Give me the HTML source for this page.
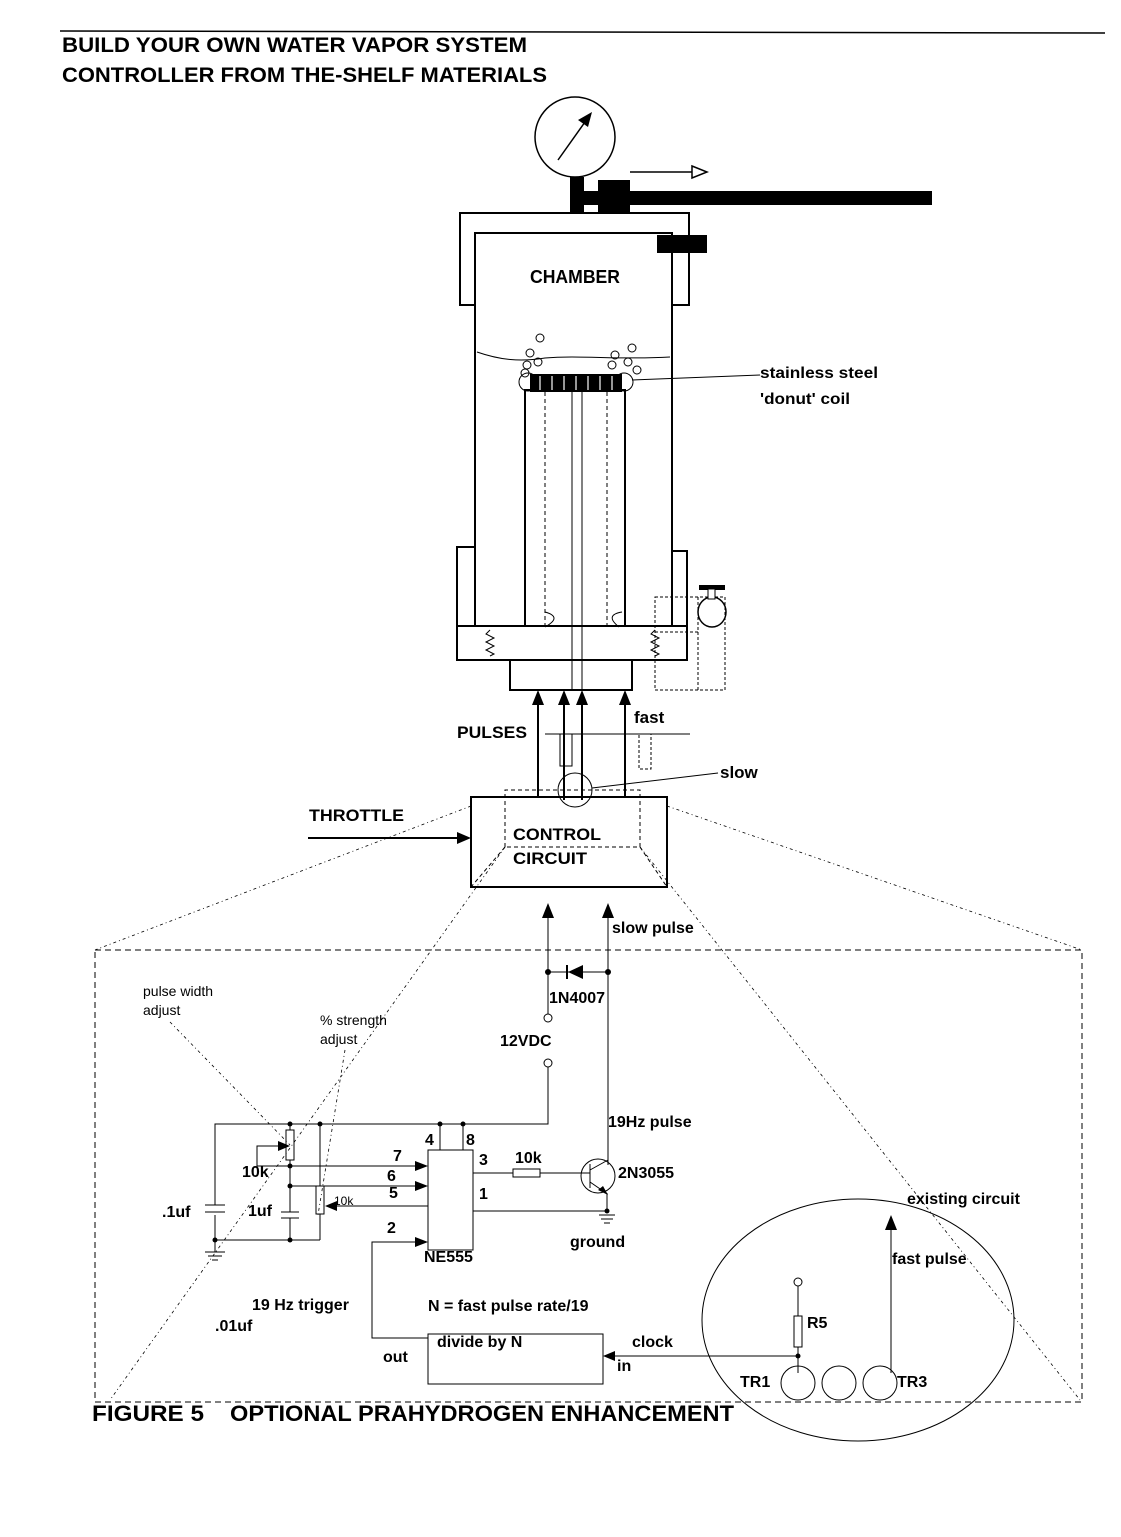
<!DOCTYPE html>
<html><head><meta charset="utf-8"><style>
html,body{margin:0;padding:0;background:#fff}
svg{display:block}
text{font-family:"Liberation Sans",sans-serif;fill:#000}
.b{font-weight:bold}
</style></head><body>
<svg width="1121" height="1537" viewBox="0 0 1121 1537" xmlns="http://www.w3.org/2000/svg">
<g stroke="#000" fill="none">
<line x1="60" y1="31" x2="1105" y2="33" stroke-width="1.5"/>
</g>
<text x="62" y="52" class="b" font-size="21" textLength="465" lengthAdjust="spacingAndGlyphs">BUILD YOUR OWN WATER VAPOR SYSTEM</text>
<text x="62" y="82" class="b" font-size="21" textLength="485" lengthAdjust="spacingAndGlyphs">CONTROLLER FROM THE-SHELF MATERIALS</text>

<!-- gauge -->
<g stroke="#000" fill="none" stroke-width="1.5">
<circle cx="575" cy="137" r="40"/>
<line x1="558" y1="160" x2="585" y2="122"/>
</g>
<polygon points="592,112 578,120 588,127" fill="#000"/>
<rect x="570" y="177" width="14" height="37" fill="#000"/>
<rect x="584" y="191" width="348" height="14" fill="#000"/>
<rect x="598" y="180" width="32" height="32" fill="#000"/>
<line x1="630" y1="172" x2="693" y2="172" stroke="#000" stroke-width="1.5"/>
<polygon points="692,166 707,172 692,178" fill="#fff" stroke="#000" stroke-width="1.5"/>

<g stroke="#000" fill="none" stroke-width="2">
<polyline points="475,305 460,305 460,213 689,213 689,305 672,305"/>
<rect x="475" y="233" width="197" height="393"/>
<polyline points="475,547 457,547 457,660 687,660 687,551 672,551"/>
<line x1="457" y1="626" x2="687" y2="626"/>
<rect x="510" y="660" width="122" height="30"/>
<rect x="525" y="390" width="100" height="236" stroke-width="2"/>
</g>
<rect x="657" y="235" width="50" height="18" fill="#000"/>
<text x="575" y="283" class="b" font-size="18" text-anchor="middle" textLength="90" lengthAdjust="spacingAndGlyphs">CHAMBER</text>
<path d="M477,352 C500,360 520,362 545,358 C580,355 620,360 670,357" stroke="#000" fill="none"/>
<!-- coil -->
<rect x="530" y="374" width="92" height="18" fill="#000"/>
<g stroke="#fff" stroke-width="1.2"><line x1="540" y1="376" x2="540" y2="390"/><line x1="552" y1="376" x2="552" y2="390"/><line x1="564" y1="376" x2="564" y2="390"/><line x1="576" y1="376" x2="576" y2="390"/><line x1="588" y1="376" x2="588" y2="390"/><line x1="600" y1="376" x2="600" y2="390"/><line x1="612" y1="376" x2="612" y2="390"/></g>
<g stroke="#000" fill="none" stroke-width="1">
<ellipse cx="528" cy="382" rx="9" ry="9"/><ellipse cx="624" cy="382" rx="9" ry="9"/>
<circle cx="540" cy="338" r="4"/><circle cx="530" cy="353" r="4"/><circle cx="538" cy="362" r="4"/><circle cx="527" cy="365" r="4"/>
<circle cx="632" cy="348" r="4"/><circle cx="615" cy="355" r="4"/><circle cx="628" cy="362" r="4"/><circle cx="612" cy="365" r="4"/><circle cx="637" cy="370" r="4"/><circle cx="525" cy="373" r="4"/>
<line x1="545" y1="392" x2="545" y2="625" stroke-dasharray="4,3"/>
<line x1="607" y1="392" x2="607" y2="625" stroke-dasharray="4,3"/>
<line x1="572" y1="392" x2="572" y2="690"/>
<line x1="582" y1="392" x2="582" y2="690"/>
<line x1="632" y1="380" x2="760" y2="375"/>
<path d="M490,630 l-4,4 l8,4 l-8,4 l8,4 l-8,4 l8,4 l-4,2"/>
<path d="M655,630 l-4,4 l8,4 l-8,4 l8,4 l-8,4 l8,4 l-4,2"/>
<path d="M545,612 q18,5 0,15"/><path d="M622,612 q-18,3 -3,15"/>
<rect x="655" y="597" width="70" height="93" stroke-dasharray="3,2"/>
<line x1="698" y1="597" x2="698" y2="690" stroke-dasharray="3,2"/>
<ellipse cx="712" cy="612" rx="14" ry="15" stroke-width="1.5"/>
<line x1="655" y1="632" x2="698" y2="632" stroke-dasharray="3,2"/>
</g>
<rect x="699" y="585" width="26" height="5" fill="#000"/>
<rect x="708" y="589" width="7" height="10" fill="#fff" stroke="#000"/>
<text x="760" y="378" class="b" font-size="16" textLength="118" lengthAdjust="spacingAndGlyphs">stainless steel</text>
<text x="760" y="404" class="b" font-size="16" textLength="90" lengthAdjust="spacingAndGlyphs">'donut' coil</text>

<!-- pulse arrows -->
<g stroke="#000" stroke-width="2">
<line x1="538" y1="797" x2="538" y2="700"/><line x1="564" y1="800" x2="564" y2="700"/><line x1="582" y1="800" x2="582" y2="700"/><line x1="625" y1="797" x2="625" y2="700"/>
</g>
<g fill="#000">
<polygon points="538,690 532,705 544,705"/><polygon points="564,690 558,705 570,705"/><polygon points="582,690 576,705 588,705"/><polygon points="625,690 619,705 631,705"/>
</g>
<g stroke="#000" fill="none" stroke-width="1">
<line x1="545" y1="734" x2="690" y2="734"/>
<rect x="560" y="734" width="12" height="32"/>
<rect x="639" y="734" width="12" height="35" stroke-dasharray="3,2"/>
<circle cx="575" cy="790" r="17"/>
<line x1="592" y1="788" x2="718" y2="773"/>
</g>
<text x="457" y="738" class="b" font-size="17" textLength="70" lengthAdjust="spacingAndGlyphs">PULSES</text>
<text x="634" y="723" class="b" font-size="17">fast</text>
<text x="720" y="778" class="b" font-size="17">slow</text>

<!-- control circuit -->
<rect x="471" y="797" width="196" height="90" fill="none" stroke="#000" stroke-width="2"/>
<g stroke="#000" fill="none" stroke-width="1" stroke-dasharray="4,3">
<polyline points="505,847 505,790 640,790 640,847 505,847"/>
<line x1="505" y1="847" x2="471" y2="887"/><line x1="640" y1="847" x2="667" y2="887"/>
</g>
<text x="513" y="840" class="b" font-size="17" textLength="88" lengthAdjust="spacingAndGlyphs">CONTROL</text>
<text x="513" y="864" class="b" font-size="17" textLength="74" lengthAdjust="spacingAndGlyphs">CIRCUIT</text>
<text x="309" y="821" class="b" font-size="17" textLength="95" lengthAdjust="spacingAndGlyphs">THROTTLE</text>
<line x1="308" y1="838" x2="460" y2="838" stroke="#000" stroke-width="2"/>
<polygon points="471,838 457,832 457,844" fill="#000"/>

<!-- perspective dotted lines -->
<g stroke="#000" fill="none" stroke-width="0.8" stroke-dasharray="3,3,1,3">
<line x1="471" y1="806" x2="95" y2="950"/>
<line x1="667" y1="806" x2="1082" y2="950"/>
<line x1="505" y1="847" x2="110" y2="1400"/>
<line x1="640" y1="847" x2="1080" y2="1400"/>
<line x1="170" y1="1022" x2="290" y2="1145"/>
<line x1="345" y1="1050" x2="318" y2="1215"/>
</g>
<rect x="95" y="950" width="987" height="452" fill="none" stroke="#000" stroke-width="1" stroke-dasharray="6,4"/>

<!-- circuit -->
<g stroke="#000" fill="none" stroke-width="1">
<line x1="548" y1="1014" x2="548" y2="912"/>
<line x1="608" y1="1165" x2="608" y2="912"/>
<line x1="548" y1="972" x2="608" y2="972"/>
<circle cx="548" cy="1018" r="4"/>
<circle cx="548" cy="1063" r="4"/>
<polyline points="548,1067 548,1124 215,1124 215,1205"/>
<line x1="215" y1="1215" x2="215" y2="1252"/>
<line x1="205" y1="1205" x2="225" y2="1205"/><line x1="205" y1="1212" x2="225" y2="1212"/>
<line x1="205" y1="1252" x2="225" y2="1252"/><line x1="208" y1="1256" x2="222" y2="1256"/><line x1="212" y1="1260" x2="218" y2="1260"/>
<line x1="215" y1="1240" x2="320" y2="1240"/>
<rect x="286" y="1130" width="8" height="30"/>
<line x1="290" y1="1124" x2="290" y2="1130"/>
<polyline points="290,1160 290,1212"/>
<line x1="281" y1="1212" x2="299" y2="1212"/><line x1="281" y1="1218" x2="299" y2="1218"/>
<line x1="290" y1="1218" x2="290" y2="1240"/>
<polyline points="280,1146 257,1146 257,1166 420,1166"/>
<line x1="290" y1="1186" x2="420" y2="1186"/>
<line x1="320" y1="1124" x2="320" y2="1186"/>
<rect x="316" y="1186" width="8" height="28"/>
<line x1="320" y1="1214" x2="320" y2="1240"/>
<line x1="335" y1="1206" x2="428" y2="1206"/>
<rect x="428" y="1150" width="45" height="100"/>
<line x1="440" y1="1124" x2="440" y2="1150"/><line x1="463" y1="1124" x2="463" y2="1150"/>
<polyline points="420,1242 372,1242 372,1338 428,1338"/>
<line x1="473" y1="1173" x2="513" y2="1173"/>
<rect x="513" y="1169" width="27" height="8"/>
<line x1="540" y1="1173" x2="590" y2="1173"/>
<circle cx="598" cy="1176" r="17"/>
<line x1="590" y1="1164" x2="590" y2="1188"/>
<line x1="590" y1="1170" x2="608" y2="1160"/>
<line x1="590" y1="1182" x2="606" y2="1193"/>
<line x1="607" y1="1193" x2="607" y2="1213"/>
<line x1="473" y1="1211" x2="607" y2="1211"/>
<line x1="599" y1="1215" x2="615" y2="1215"/><line x1="601" y1="1219" x2="613" y2="1219"/><line x1="604" y1="1223" x2="610" y2="1223"/>
<rect x="428" y="1334" width="175" height="50"/>
<line x1="613" y1="1356" x2="798" y2="1356"/>
<ellipse cx="858" cy="1320" rx="156" ry="121"/>
<circle cx="798" cy="1383" r="17"/><circle cx="839" cy="1383" r="17"/><circle cx="880" cy="1383" r="17"/>
<line x1="798" y1="1286" x2="798" y2="1373"/>
<rect x="794" y="1316" width="8" height="31" fill="#fff"/>
<circle cx="798" cy="1282" r="4"/>
<line x1="891" y1="1373" x2="891" y2="1225"/>
</g>
<g fill="#000">
<polygon points="548,903 542,918 554,918"/><polygon points="608,903 602,918 614,918"/>
<polygon points="568,972 583,965 583,979"/><rect x="566" y="965" width="2" height="14"/>
<circle cx="548" cy="972" r="3"/><circle cx="608" cy="972" r="3"/>
<polygon points="290,1146 278,1141 278,1151"/>
<polygon points="428,1166 415,1161 415,1171"/><polygon points="428,1186 415,1181 415,1191"/>
<polygon points="325,1206 337,1201 337,1211"/><polygon points="428,1242 415,1237 415,1247"/>
<polygon points="608,1195 598,1190 603,1186"/>
<polygon points="603,1356 615,1351 615,1361"/>
<polygon points="891,1215 885,1230 897,1230"/>
<circle cx="290" cy="1124" r="2.5"/><circle cx="320" cy="1124" r="2.5"/><circle cx="440" cy="1124" r="2.5"/><circle cx="463" cy="1124" r="2.5"/>
<circle cx="290" cy="1166" r="2.5"/><circle cx="290" cy="1186" r="2.5"/><circle cx="215" cy="1240" r="2.5"/><circle cx="290" cy="1240" r="2.5"/>
<circle cx="607" cy="1211" r="2.5"/><circle cx="798" cy="1356" r="2.5"/>
</g>
<g font-size="16">
<text x="612" y="933" class="b">slow pulse</text>
<text x="549" y="1003" class="b">1N4007</text>
<text x="500" y="1046" class="b">12VDC</text>
<text x="608" y="1127" class="b">19Hz pulse</text>
<text x="425" y="1145" class="b">4</text><text x="466" y="1145" class="b">8</text>
<text x="393" y="1161" class="b">7</text><text x="387" y="1181" class="b">6</text><text x="389" y="1198" class="b">5</text>
<text x="479" y="1165" class="b">3</text><text x="479" y="1199" class="b">1</text><text x="387" y="1233" class="b">2</text>
<text x="515" y="1163" class="b">10k</text>
<text x="618" y="1178" class="b">2N3055</text>
<text x="570" y="1247" class="b">ground</text>
<text x="242" y="1177" class="b">10k</text>
<text x="162" y="1217" class="b">.1uf</text>
<text x="248" y="1216" class="b">1uf</text>
<text x="424" y="1262" class="b">NE555</text>
<text x="252" y="1310" class="b">19 Hz trigger</text>
<text x="215" y="1331" class="b">.01uf</text>
<text x="428" y="1311" class="b">N = fast pulse rate/19</text>
<text x="437" y="1347" class="b">divide by N</text>
<text x="383" y="1362" class="b">out</text>
<text x="632" y="1347" class="b">clock</text>
<text x="617" y="1371" class="b">in</text>
<text x="740" y="1387" class="b">TR1</text>
<text x="897" y="1387" class="b">TR3</text>
<text x="807" y="1328" class="b">R5</text>
<text x="892" y="1264" class="b">fast pulse</text>
<text x="907" y="1204" class="b">existing circuit</text>
</g>
<text x="334" y="1205" font-size="12">10k</text>
<text x="143" y="996" font-size="14">pulse width</text>
<text x="143" y="1015" font-size="14">adjust</text>
<text x="320" y="1025" font-size="14">% strength</text>
<text x="320" y="1044" font-size="14">adjust</text>
<text x="92" y="1421" class="b" font-size="22" textLength="112" lengthAdjust="spacingAndGlyphs">FIGURE 5</text>
<text x="230" y="1421" class="b" font-size="22" textLength="504" lengthAdjust="spacingAndGlyphs">OPTIONAL PRAHYDROGEN ENHANCEMENT</text>
</svg>
</body></html>
